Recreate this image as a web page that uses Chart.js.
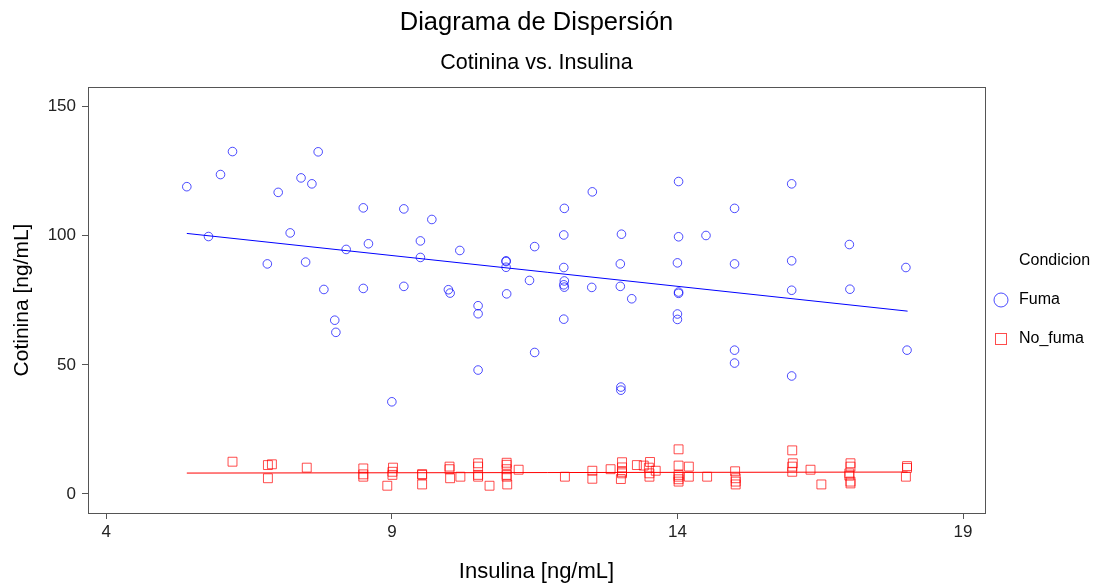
<!DOCTYPE html>
<html>
<head>
<meta charset="utf-8">
<script src="https://cdn.jsdelivr.net/npm/chart.js@4/dist/chart.umd.min.js"></script>
<style>
html,body{margin:0;padding:0;background:#fff;}
canvas{display:block;}
</style>
</head>
<body>
<canvas id="c" width="1099" height="585"></canvas>
<script>
const chartTitle = "Diagrama de Dispersión";
const chartSubtitle = "Cotinina vs. Insulina";
const xTitle = "Insulina [ng/mL]";
const yTitle = "Cotinina [ng/mL]";
const legendTitle = "Condicion";
const seriesNames = ["Fuma", "No_fuma"];
const xTicks = [4, 9, 14, 19];
const yTicks = [0, 50, 100, 150];

const fumaX = [5.41,6.21,6.00,5.79,7.71,7.41,7.60,7.01,7.22,6.82,7.49,8.50,9.21,9.70,8.20,8.59,9.50,9.50,10.19,7.81,8.50,9.21,9.99,10.02,8.00,8.02,9.00,11.00,11.00,11.00,11.50,11.41,11.01,10.51,10.51,11.50,10.51,12.02,12.01,12.01,12.02,12.01,12.02,12.01,12.51,12.50,13.02,13.00,13.00,13.20,13.01,13.01,14.02,14.02,14.50,14.00,14.02,14.02,14.00,14.00,15.00,15.00,15.00,15.00,16.00,16.00,16.00,16.00,17.01,17.02,18.00,18.02];
const fumaY = [119.0,132.6,123.7,99.7,132.5,122.4,120.1,116.8,101.1,89.1,89.8,110.8,110.4,106.3,94.7,96.9,98.0,91.6,94.3,79.2,79.6,80.4,79.1,77.8,67.3,62.6,35.7,90.3,90.0,87.8,95.8,82.7,77.5,72.9,69.8,54.8,48.0,110.6,100.3,87.7,82.5,81.0,80.1,67.7,117.0,80.0,100.6,89.1,80.4,75.6,41.4,40.2,121.0,99.6,100.1,89.5,78.2,77.7,69.7,67.6,110.6,89.1,55.7,50.7,120.1,90.3,78.9,45.7,96.6,79.3,87.7,55.7];

const noFumaX = [6.21,6.83,6.90,6.83,7.51,8.50,8.50,8.50,8.92,9.02,9.01,9.01,9.53,9.53,9.53,10.01,10.01,10.02,10.20,10.51,10.51,10.51,10.51,10.71,11.01,11.01,11.01,11.01,11.01,11.02,11.22,12.03,12.51,12.51,12.83,13.03,13.03,13.03,13.03,13.01,13.29,13.41,13.52,13.50,13.51,13.51,13.62,14.02,14.02,14.02,14.02,14.02,14.02,14.20,14.20,14.52,15.01,15.02,15.02,15.02,16.01,16.02,16.01,16.01,16.33,16.52,17.03,17.03,17.01,17.01,17.03,17.03,18.02,18.02,18.00];
const noFumaY = [12.5,11.2,11.5,6.1,10.2,9.9,7.6,6.7,3.2,10.2,8.6,7.4,7.7,7.4,3.7,10.6,9.6,6.1,6.7,11.9,10.6,7.4,6.7,3.2,12.1,11.3,9.6,7.4,6.7,3.7,9.4,6.7,9.0,5.9,9.6,12.3,10.3,8.6,8.0,5.8,11.2,11.0,12.4,10.2,8.0,6.7,9.0,17.3,11.0,7.4,6.7,5.7,4.8,10.6,6.7,6.7,8.8,6.1,4.8,3.7,16.9,11.9,10.6,8.6,9.4,3.7,11.9,10.6,8.0,7.1,4.8,4.1,10.8,10.1,6.7];

const fitFumaX = [5.41, 18.03];
const fitFumaY = [100.9, 70.8];
const fitNoFumaX = [5.41, 18.03];
const fitNoFumaY = [8.1, 8.5];

const BLUE = 'rgba(0,0,255,0.7)';
const RED = 'rgba(255,0,0,0.7)';
const AXIS = '#555';
const FONT = "'Liberation Sans', Arial, sans-serif";

function pts(xs, ys){ return xs.map((x,i)=>({x:x, y:ys[i]})); }

const framePlugin = {
  id: 'frame',
  afterDraw(chart){
    const {ctx, chartArea:a} = chart;
    ctx.save();
    ctx.strokeStyle = AXIS; ctx.lineWidth = 1;
    ctx.strokeRect(Math.round(a.left)+0.5, Math.round(a.top)+0.5, Math.round(a.right-a.left), Math.round(a.bottom-a.top));
    const cx = (a.left + a.right)/2;
    ctx.fillStyle = '#000';
    ctx.textAlign = 'center'; ctx.textBaseline = 'middle';
    ctx.font = "25.5px " + FONT;
    ctx.fillText(chartTitle, cx, 23);
    ctx.font = "21.5px " + FONT;
    ctx.fillText(chartSubtitle, cx, 63);
    const lx = 1001, tx = 1019;
    ctx.textAlign = 'left';
    ctx.font = "16px " + FONT;
    ctx.fillText(legendTitle, tx, 261);
    ctx.strokeStyle = BLUE; ctx.lineWidth = 1;
    ctx.beginPath(); ctx.arc(lx, 300, 7, 0, Math.PI*2); ctx.stroke();
    ctx.fillText(seriesNames[0], tx, 300);
    ctx.strokeStyle = RED;
    ctx.strokeRect(lx-5.5, 339-5.5, 11, 11);
    ctx.fillText(seriesNames[1], tx, 339);
    ctx.restore();
  }
};

new Chart(document.getElementById('c'), {
  type: 'scatter',
  data: {
    datasets: [
      { label: seriesNames[0], data: pts(fumaX, fumaY), pointStyle: 'circle', pointRadius: 4.3, borderColor: BLUE, backgroundColor: 'rgba(0,0,0,0)', borderWidth: 1 },
      { label: seriesNames[1], data: pts(noFumaX, noFumaY), pointStyle: 'rect', pointRadius: 6.3, borderColor: RED, backgroundColor: 'rgba(0,0,0,0)', borderWidth: 1 },
      { label: 'fit1', type: 'line', data: pts(fitFumaX, fitFumaY), showLine: true, pointRadius: 0, borderColor: '#0000ff', borderWidth: 1, fill: false },
      { label: 'fit2', type: 'line', data: pts(fitNoFumaX, fitNoFumaY), showLine: true, pointRadius: 0, borderColor: '#ff0000', borderWidth: 1, fill: false }
    ]
  },
  options: {
    responsive: false,
    animation: false,
    events: [],
    layout: { padding: { left: 0, right: 114, top: 87, bottom: 0 } },
    plugins: { legend: { display: false }, title: { display: false }, tooltip: { enabled: false } },
    scales: {
      x: {
        type: 'linear', min: 3.68, max: 19.385,
        afterBuildTicks: s => { s.ticks = xTicks.map(v => ({value: v})); },
        afterFit: s => { s.height = 72; },
        grid: { drawOnChartArea: false, drawTicks: true, tickLength: 6, color: AXIS, tickColor: AXIS },
        border: { display: true, color: AXIS },
        ticks: { padding: 3, color: '#222', font: { family: FONT, size: 17 } },
        title: { display: true, text: xTitle, color: '#000', font: { family: FONT, size: 22 }, padding: { top: 1, bottom: 0 } }
      },
      y: {
        type: 'linear', min: -7.36, max: 157.6,
        afterBuildTicks: s => { s.ticks = yTicks.map(v => ({value: v})); },
        afterFit: s => { s.width = 88; },
        grid: { drawOnChartArea: false, drawTicks: true, tickLength: 6, color: AXIS, tickColor: AXIS },
        border: { display: true, color: AXIS },
        ticks: { padding: 6, color: '#222', font: { family: FONT, size: 17 } },
        title: { display: true, text: yTitle, color: '#000', font: { family: FONT, size: 21 }, padding: { top: 9.4, bottom: 0 } }
      }
    }
  },
  plugins: [framePlugin]
});
</script>
</body>
</html>
